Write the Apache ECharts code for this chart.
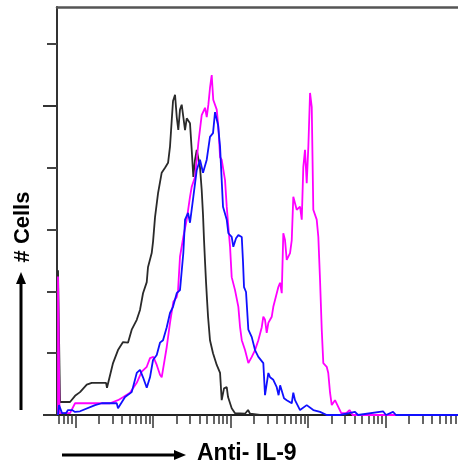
<!DOCTYPE html>
<html>
<head>
<meta charset="utf-8">
<script src="https://cdn.jsdelivr.net/npm/echarts@6/dist/echarts.min.js"></script>
<style>
html,body{margin:0;padding:0;background:#fff;}
#chart{width:458px;height:467px;}
</style>
</head>
<body>
<div id="chart"></div>
<script>
// x values are log10 of fluorescence (Anti- IL-9), y values are cell counts
const xMin = 0.761;
const xMax = 5.935;
const yMax = 66;
const decades = [0, 1, 2, 3, 4, 5];
const majorTicks = [1, 2, 3, 4, 5];
const yTicks = [10, 20, 30, 40, 60];
const yLongTicks = [0, 50];

const unstained = [[0.774,0],[0.774,23.4],[0.80,2.1],[0.929,2.1],[0.994,3.1],[1.058,3.7],[1.145,4.9],[1.209,5.2],[1.394,5.2],[1.406,4.4],[1.484,8.4],[1.548,10.5],[1.613,11.8],[1.677,11.7],[1.725,13.8],[1.790,15.4],[1.832,17.0],[1.871,19.7],[1.919,21.5],[1.935,23.9],[1.983,26.2],[2.0,28.0],[2.026,32.0],[2.065,35.9],[2.112,39.2],[2.155,40.0],[2.194,40.8],[2.219,43.4],[2.241,47.6],[2.258,50.8],[2.284,51.8],[2.306,48.2],[2.326,46.1],[2.348,49.4],[2.370,50.2],[2.391,48.2],[2.413,46.1],[2.435,48.0],[2.477,47.2],[2.499,42.9],[2.520,38.5],[2.542,41.3],[2.564,42.9],[2.606,40.1],[2.628,36.4],[2.645,32.4],[2.658,28.3],[2.671,24.8],[2.684,21.5],[2.697,18.6],[2.710,15.9],[2.735,12.1],[2.774,10.0],[2.822,8.1],[2.865,6.8],[2.886,2.4],[2.916,4.3],[2.951,4.5],[2.968,2.9],[3.015,1.1],[3.058,0.3],[3.187,0.2],[3.226,0.8],[3.252,0.2],[3.381,0]];

const isotype = [[0.774,0],[0.787,1.6],[0.826,0.3],[0.877,0.3],[0.903,0.8],[0.955,0.8],[0.994,0.5],[1.058,0.6],[1.252,1.6],[1.338,1.9],[1.532,1.9],[1.548,1.1],[1.639,2.9],[1.725,3.7],[1.790,6.8],[1.832,7.3],[1.871,6.1],[1.919,4.4],[1.961,6.1],[2.0,8.9],[2.048,9.7],[2.090,11.7],[2.129,12.1],[2.177,14.2],[2.219,16.5],[2.258,17.5],[2.306,19.7],[2.348,20.2],[2.391,26.2],[2.413,31.6],[2.452,32.7],[2.477,31.1],[2.520,35.3],[2.564,39.6],[2.606,41.3],[2.645,39.2],[2.693,41.3],[2.735,45.0],[2.774,45.6],[2.800,49.0],[2.822,48.9],[2.839,46.9],[2.865,43.4],[2.886,38.0],[2.903,33.7],[2.951,31.6],[2.972,29.4],[3.015,28.8],[3.036,27.2],[3.071,28.6],[3.101,29.1],[3.145,28.8],[3.161,24.8],[3.174,20.7],[3.200,19.9],[3.230,13.8],[3.274,12.6],[3.316,10.5],[3.359,9.4],[3.423,8.4],[3.445,3.2],[3.488,6.8],[3.510,6.1],[3.552,5.7],[3.596,4.5],[3.620,3.2],[3.640,4.8],[3.661,4.5],[3.690,2.7],[3.725,2.4],[3.790,1.9],[3.810,3.6],[3.832,2.4],[3.897,0.8],[3.983,1.6],[4.068,0.8],[4.155,0.5],[4.241,0],[4.413,0],[4.606,0.5],[4.645,0],[4.968,0.6],[5.006,0],[5.097,0.5],[5.135,0],[5.935,0]];

const antiIL9 = [[0.774,0],[0.774,22.4],[0.794,0.3],[0.929,0.3],[0.951,0.5],[0.994,1.9],[1.445,1.9],[1.548,2.4],[1.617,2.9],[1.703,3.6],[1.790,5.2],[1.854,7.0],[1.919,7.8],[1.961,9.2],[2.004,9.4],[2.048,8.1],[2.090,6.5],[2.112,6.1],[2.177,11.0],[2.219,14.9],[2.262,18.3],[2.306,19.1],[2.323,20.2],[2.348,25.6],[2.391,28.8],[2.435,31.6],[2.477,35.3],[2.499,36.9],[2.542,38.5],[2.564,41.3],[2.585,44.0],[2.628,48.5],[2.671,49.7],[2.693,48.2],[2.714,50.2],[2.735,52.9],[2.757,55.0],[2.777,51.0],[2.822,49.4],[2.843,46.6],[2.865,41.7],[2.886,41.3],[2.929,38.0],[2.951,33.7],[2.972,30.4],[2.994,27.2],[3.015,22.3],[3.058,20.2],[3.101,17.5],[3.123,14.2],[3.145,12.1],[3.187,10.5],[3.230,8.4],[3.274,9.4],[3.316,10.5],[3.359,12.1],[3.403,14.2],[3.423,15.9],[3.445,15.4],[3.467,13.3],[3.488,14.9],[3.510,15.4],[3.532,15.9],[3.552,17.5],[3.574,17.5],[3.617,20.7],[3.639,21.4],[3.661,19.7],[3.681,29.4],[3.703,28.3],[3.725,25.1],[3.768,26.2],[3.790,28.3],[3.810,35.3],[3.854,33.2],[3.897,33.7],[3.919,31.6],[3.939,40.1],[3.961,42.9],[3.983,37.5],[4.004,43.4],[4.026,52.1],[4.048,49.8],[4.068,33.2],[4.112,31.6],[4.133,28.8],[4.155,21.8],[4.177,13.8],[4.197,8.4],[4.241,7.8],[4.261,6.8],[4.284,3.6],[4.306,1.6],[4.348,2.4],[4.390,1.3],[4.429,0.3],[4.494,0.3],[4.535,0.8],[4.574,0],[5.935,0]];

const minorTicks = [];
decades.forEach(function (d) {
  for (let k = 2; k <= 9; k++) {
    const v = d + Math.log10(k);
    if (v >= xMin && v <= xMax) minorTicks.push(v);
  }
});

const chart = echarts.init(document.getElementById('chart'), null, {renderer: 'canvas'});

const baseX = {
  type: 'value', min: xMin, max: xMax,
  axisLabel: {show: false}, splitLine: {show: false}
};

const option = {
  animation: false,
  backgroundColor: '#ffffff',
  grid: {left: 57, right: 0, top: 7, bottom: 52},
  xAxis: [
    Object.assign({}, baseX, {
      position: 'bottom',
      axisLine: {show: true, lineStyle: {color: '#222', width: 2}},
      axisTick: {show: true, customValues: minorTicks, length: 9, lineStyle: {color: '#333', width: 1.5}}
    }),
    Object.assign({}, baseX, {
      position: 'bottom',
      axisLine: {show: false},
      axisTick: {show: true, customValues: majorTicks, length: 13, lineStyle: {color: '#333', width: 1.5}}
    }),
    Object.assign({}, baseX, {
      position: 'top',
      axisLine: {show: true, lineStyle: {color: '#555', width: 2.5}},
      axisTick: {show: false}
    })
  ],
  yAxis: [
    {
      type: 'value', min: 0, max: yMax, position: 'left',
      axisLabel: {show: false}, splitLine: {show: false},
      axisLine: {show: true, lineStyle: {color: '#333', width: 2}},
      axisTick: {show: true, customValues: yTicks, length: 10, lineStyle: {color: '#444', width: 2}}
    },
    {
      type: 'value', min: 0, max: yMax, position: 'left',
      axisLabel: {show: false}, splitLine: {show: false},
      axisLine: {show: false},
      axisTick: {show: true, customValues: yLongTicks, length: 14, lineStyle: {color: '#333', width: 2}}
    }
  ],
  series: [
    {
      name: 'Unstained', type: 'line', data: unstained, showSymbol: false, symbol: 'none',
      lineStyle: {color: '#2a2a2a', width: 1.8}, z: 3
    },
    {
      name: 'Anti- IL-9', type: 'line', data: antiIL9, showSymbol: false, symbol: 'none',
      lineStyle: {color: '#ff00ff', width: 1.8}, z: 4
    },
    {
      name: 'Isotype control', type: 'line', data: isotype, showSymbol: false, symbol: 'none',
      lineStyle: {color: '#1010ff', width: 1.8}, z: 5
    }
  ],
  graphic: [
    {
      type: 'text', x: 23, y: 227, rotation: Math.PI / 2,
      style: {text: '# Cells', font: 'bold 22px "Liberation Sans", Arial, sans-serif', fill: '#000', align: 'center', verticalAlign: 'middle'}
    },
    {
      type: 'line', shape: {x1: 21, y1: 410, x2: 21, y2: 282},
      style: {stroke: '#000', lineWidth: 3}
    },
    {
      type: 'polygon', shape: {points: [[21, 272], [16, 284], [26, 284]]},
      style: {fill: '#000'}
    },
    {
      type: 'line', shape: {x1: 62, y1: 455, x2: 176, y2: 455},
      style: {stroke: '#000', lineWidth: 3}
    },
    {
      type: 'polygon', shape: {points: [[186, 455], [174, 450], [174, 460]]},
      style: {fill: '#000'}
    },
    {
      type: 'text', x: 197, y: 454,
      style: {text: 'Anti- IL-9', font: 'bold 23px "Liberation Sans", Arial, sans-serif', fill: '#000', align: 'left', verticalAlign: 'middle'}
    }
  ]
};

chart.setOption(option);
</script>
</body>
</html>
